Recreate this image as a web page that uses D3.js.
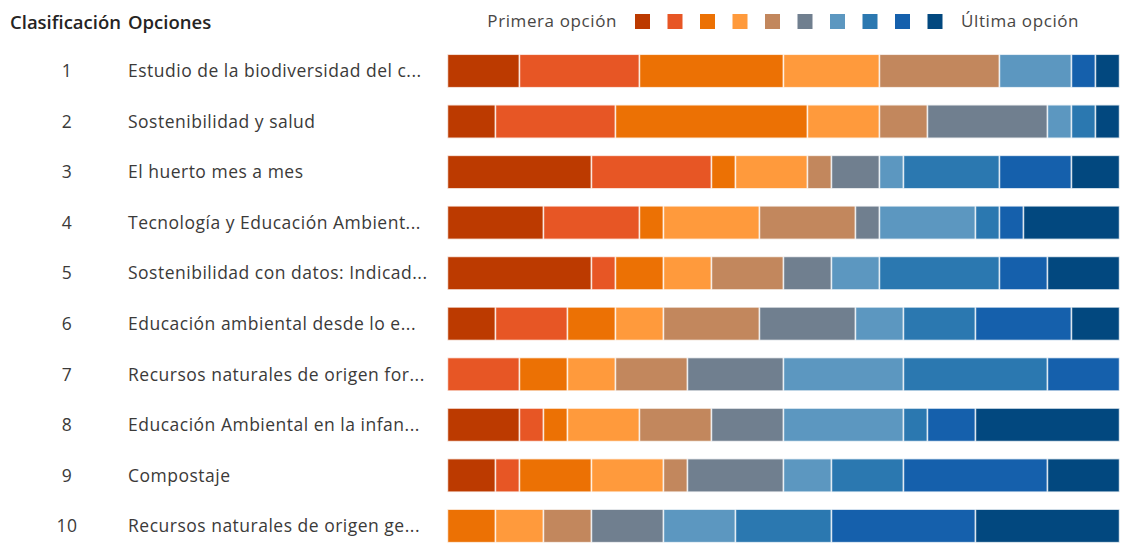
<!DOCTYPE html>
<html>
<head>
<meta charset="utf-8">
<script src="https://cdn.jsdelivr.net/npm/d3@7"></script>
<style>
  html, body { margin: 0; padding: 0; background: #fff; }
  svg { display: block; }
  text { font-family: "Open Sans", "Noto Sans", sans-serif; }
</style>
</head>
<body>
<svg id="chart" width="1121" height="544"></svg>
<script>
// ---- data ----
const ranks = ["1","2","3","4","5","6","7","8","9","10"];
const options = [
  "Estudio de la biodiversidad del c...",
  "Sostenibilidad y salud",
  "El huerto mes a mes",
  "Tecnología y Educación Ambient...",
  "Sostenibilidad con datos: Indicad...",
  "Educación ambiental desde lo e...",
  "Recursos naturales de origen for...",
  "Educación Ambiental en la infan...",
  "Compostaje",
  "Recursos naturales de origen ge..."
];
// counts per ranking position (Primera opción ... Última opción) for each option
const counts = [
  [3,5,6,4,5,0,3,0,1,1],
  [2,5,8,3,2,5,1,1,0,1],
  [6,5,1,3,1,2,1,4,3,2],
  [4,4,1,4,4,1,4,1,1,4],
  [6,1,2,2,3,2,2,5,2,3],
  [2,3,2,2,4,4,2,3,4,2],
  [0,3,2,2,3,4,5,6,3,0],
  [3,1,1,3,3,3,5,1,2,6],
  [2,1,3,3,1,4,2,3,6,3],
  [0,0,2,2,2,3,3,4,6,6]
];
const positions = ["p1","p2","p3","p4","p5","p6","p7","p8","p9","p10"];
const colors = ["#BC3A00","#E75625","#EC7104","#FF9A3C","#C2875D","#707F8F","#5C97C0","#2B78B0","#1560AC","#02487F"];
const headers = ["Clasificación","Opciones"];
const legendLabels = ["Primera opción","Última opción"];

// ---- build ----
const svg = d3.select("#chart");
const total = d3.max(counts, r => d3.sum(r));

const x = d3.scaleLinear().domain([0, total]).range([447.5, 1119.5]);
const y = d3.scaleBand().domain(ranks).range([45.7, 551.2]).paddingInner(0.34).paddingOuter(0.17);
const color = d3.scaleOrdinal().domain(positions).range(colors);

const table = options.map((o, i) => {
  const row = { rank: ranks[i], option: o };
  positions.forEach((p, j) => row[p] = counts[i][j]);
  return row;
});
const series = d3.stack().keys(positions)(table);

// headers
svg.append("text").attr("x", 10).attr("y", 29)
  .attr("font-size", 18.5).attr("font-weight", 600).attr("fill", "#252423")
  .attr("letter-spacing", 0)
  .text(headers[0]);
svg.append("text").attr("x", 128).attr("y", 29)
  .attr("font-size", 18.5).attr("font-weight", 600).attr("fill", "#252423")
  .attr("letter-spacing", 0)
  .text(headers[1]);

// legend
const lg = svg.append("g");
lg.append("text").attr("x", 617).attr("y", 27).attr("text-anchor", "end")
  .attr("font-size", 17).attr("letter-spacing", 0.6)
  .attr("fill", "#484644").text(legendLabels[0]);
lg.selectAll("rect").data(positions).join("rect")
  .attr("x", (d, i) => 635 + i * 32.5).attr("y", 14)
  .attr("width", 15).attr("height", 15)
  .attr("fill", d => color(d));
lg.append("text").attr("x", 961).attr("y", 27)
  .attr("font-size", 17).attr("letter-spacing", 0.6)
  .attr("fill", "#484644").text(legendLabels[1]);

// row labels
const rows = svg.append("g");
rows.selectAll("text.rank").data(table).join("text").attr("class", "rank")
  .attr("x", 67).attr("y", d => y(d.rank) + y.bandwidth() / 2)
  .attr("dy", "0.36em").attr("text-anchor", "middle")
  .attr("font-size", 17.5).attr("letter-spacing", 0.5)
  .attr("fill", "#3b3a39").text(d => d.rank);
rows.selectAll("text.opt").data(table).join("text").attr("class", "opt")
  .attr("x", 128).attr("y", d => y(d.rank) + y.bandwidth() / 2)
  .attr("dy", "0.36em")
  .attr("font-size", 17.5).attr("letter-spacing", 0.5)
  .attr("fill", "#3b3a39").text(d => d.option);

// bars
svg.append("g").selectAll("g").data(series).join("g")
  .attr("fill", d => color(d.key))
  .selectAll("rect").data(d => d.filter(s => s[1] > s[0])).join("rect")
  .attr("x", d => x(d[0]))
  .attr("y", d => y(d.data.rank))
  .attr("width", d => x(d[1]) - x(d[0]))
  .attr("height", y.bandwidth())
  .attr("stroke", "#fff").attr("stroke-opacity", 0.75).attr("stroke-width", 1.5);
</script>
</body>
</html>
